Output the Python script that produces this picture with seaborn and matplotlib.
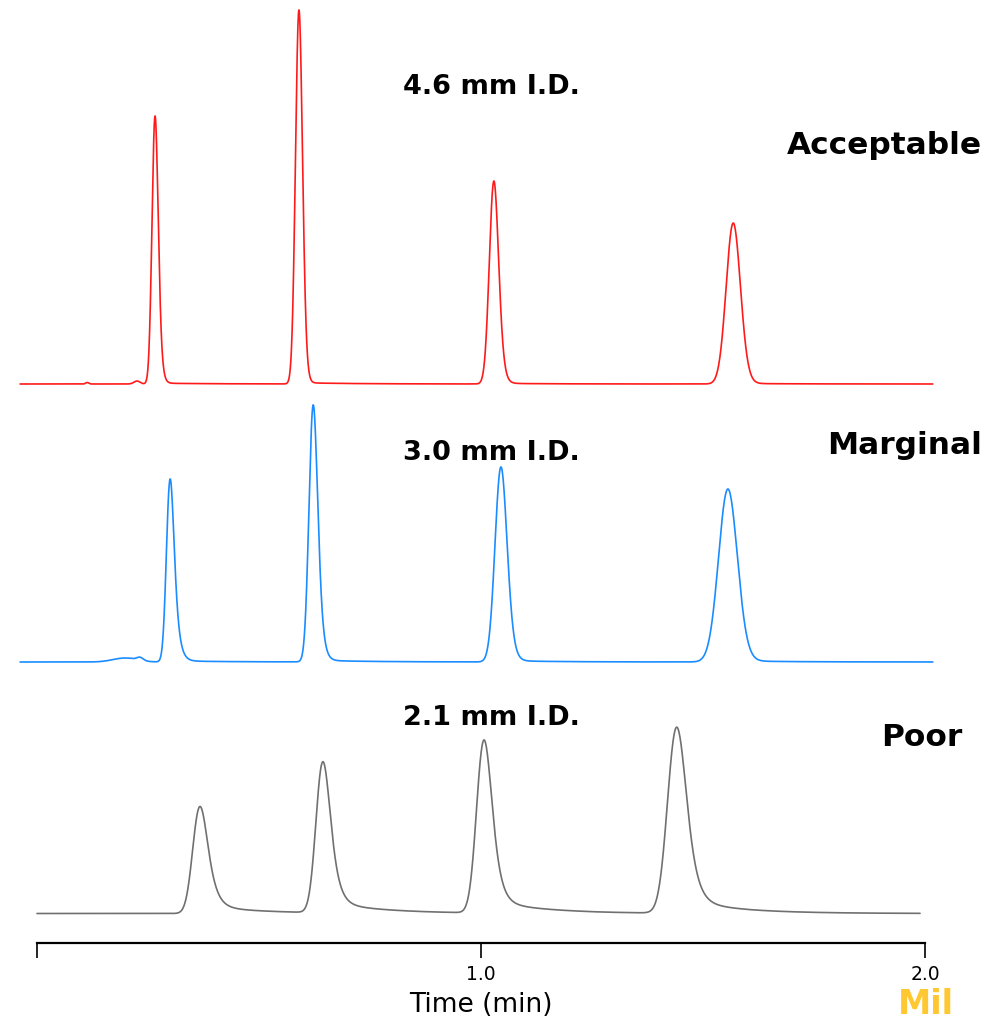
import numpy as np
import pandas as pd
import matplotlib
matplotlib.use('Agg')
import matplotlib.pyplot as plt
import seaborn as sns

sns.set_style('white')
plt.rcParams['font.family'] = ['DejaVu Sans']
plt.rcParams['text.color'] = 'black'
plt.rcParams['axes.labelcolor'] = 'black'

# peak tables: apex time (min), height (signal units),
# gaussian sigma (min), exponential tailing tau (min)
red_times = [0.113, 0.225, 0.266, 0.590, 1.029, 1.568]
red_heights = [1.5, 3, 268, 374, 203, 161]
red_sigma = [0.0034, 0.0068, 0.0063, 0.0074, 0.0095, 0.0153]
red_tau = [0.001, 0.001, 0.0041, 0.0034, 0.0056, 0.0056]

blue_times = [0.198, 0.232, 0.300, 0.622, 1.045, 1.556]
blue_heights = [4, 3, 183, 257, 195, 173]
blue_sigma = [0.027, 0.0068, 0.0072, 0.0086, 0.0124, 0.0203]
blue_tau = [0.0023, 0.0023, 0.0079, 0.0068, 0.0068, 0.0068]

gray_times = [0.367, 0.644, 1.007, 1.441]
gray_heights = [107, 151, 173, 186]
gray_sigma = [0.0140, 0.0135, 0.0146, 0.018]
gray_tau = [0.0145, 0.0135, 0.0135, 0.0158]

columns = ['4.6 mm I.D.', '3.0 mm I.D.', '2.1 mm I.D.']
ratings = ['Acceptable', 'Marginal', 'Poor']
colors = {'4.6 mm I.D.': '#ff1a1a', '3.0 mm I.D.': '#1a8cff', '2.1 mm I.D.': '#707070'}

dt = 0.0004


def peak_shape(sigma, tau, slow_frac=0.0, slow_tau=0.12):
    # gaussian convolved with an exponential, apex scaled to 1
    t = np.arange(-0.2, 0.6, dt)
    g = np.exp(-0.5 * (t / sigma) ** 2)
    k = np.arange(0, 0.6, dt)
    e = np.exp(-k / tau)
    s = np.convolve(g, e)[:len(t)]
    s = s / s.max()
    if slow_frac > 0:
        e2 = np.exp(-k / slow_tau)
        s2 = np.convolve(g, e2)[:len(t)]
        s = s + slow_frac * s2 / s2.max()
        s = s / s.max()
    t = t - t[np.argmax(s)]
    return t, s


def trace(t0, t1, baseline, times, heights, sigmas, taus, slow_frac=0.0):
    t = np.arange(t0, t1, dt)
    y = np.full_like(t, baseline, dtype=float)
    for tr, h, sg, ta in zip(times, heights, sigmas, taus):
        pt, ps = peak_shape(sg, ta, slow_frac)
        y += h * np.interp(t - tr, pt, ps, left=0, right=0)
    return t, y


t_r, y_r = trace(-0.038, 2.018, 559, red_times, red_heights, red_sigma, red_tau, 0.003)
t_b, y_b = trace(-0.038, 2.018, 281, blue_times, blue_heights, blue_sigma, blue_tau, 0.006)
t_g, y_g = trace(0.0, 1.989, 29.5, gray_times, gray_heights, gray_sigma, gray_tau, 0.07)

df = pd.concat([
    pd.DataFrame({'time': t_r, 'signal': y_r, 'column': columns[0]}),
    pd.DataFrame({'time': t_b, 'signal': y_b, 'column': columns[1]}),
    pd.DataFrame({'time': t_g, 'signal': y_g, 'column': columns[2]}),
])

W, H = 988, 1022
fig = plt.figure(figsize=(W / 100, H / 100), dpi=100)
ax = fig.add_axes([0, 1 - 943 / H, 1, 943 / H])

sns.lineplot(data=df, x='time', y='signal', hue='column', palette=colors,
             estimator=None, legend=False, linewidth=1.2, ax=ax)

ax.set_xlim(-37 / 444, (W - 37) / 444)
ax.set_ylim(0, 943)
for s in ['top', 'left', 'right']:
    ax.spines[s].set_visible(False)
ax.spines['bottom'].set_bounds(0, 2)
ax.spines['bottom'].set_linewidth(1.6)
ax.spines['bottom'].set_color('black')
ax.set_yticks([])
ax.set_ylabel('')
ax.set_xticks([0, 1, 2])
ax.set_xticklabels(['', '1.0', '2.0'])
ax.tick_params(axis='x', direction='out', length=11, width=1.2, labelsize=13.5,
               pad=5, colors='black', bottom=True)
ax.set_xlabel('Time (min)', fontsize=19, color='black')
ax.xaxis.set_label_coords(481 / W, (943 - 1005) / 943)
ax.xaxis.label.set_va('center')


def px_text(x, y, s, **kw):
    fig.text(x / W, 1 - y / H, s, **kw)


for lab, y in zip(columns, [87, 453, 718]):
    px_text(491, y, lab, ha='center', va='center', fontsize=19.5, fontweight='bold',
            color='black')
for lab, x, y in zip(ratings, [982, 982, 962], [146, 445, 737]):
    px_text(x, y, lab, ha='right', va='center', fontsize=22.5, fontweight='bold',
            color='black')

# corner logo
px_text(898, 1004, 'Mil', ha='left', va='center', fontsize=24, fontweight='bold',
        color='#ffc832')

fig.savefig('out.png', dpi=100)
